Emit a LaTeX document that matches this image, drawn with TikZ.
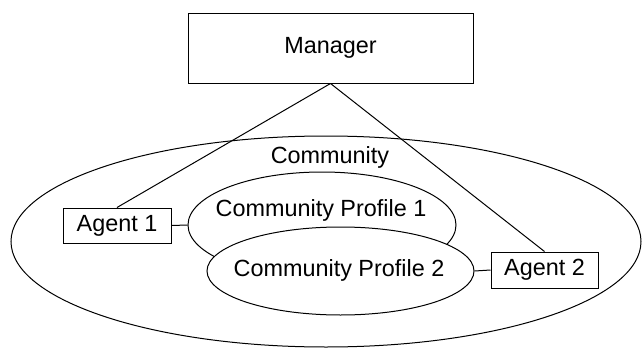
\documentclass[tikz,border=0pt]{standalone}
\usepackage{fontspec}
\setmainfont{Liberation Sans}
\usetikzlibrary{shapes.geometric}
\tikzstyle{item} = [rectangle, inner sep=0pt, text centered, draw=black, line width=0.5pt, font=\fontsize{11.7}{14}\selectfont]
\tikzstyle{group} = [ellipse, inner sep=0pt, draw=black, line width=0.5pt]
\tikzstyle{caption} = [inner sep=0pt, font=\fontsize{11.7}{14}\selectfont]
\tikzstyle{link} = [line width=0.5pt]

\begin{document}
\begin{tikzpicture}[x=0.5pt, y=-0.5pt]
    \useasboundingbox (0,0) rectangle (643,348);
    \node (community)  [group, minimum width=315pt, minimum height=105.5pt] at (326,241.5) {};
    \node (profile-1)  [group, minimum width=134pt, minimum height=53pt] at (322,225) {};
    \node (profile-2)  [group, fill=white, minimum width=133.5pt, minimum height=44pt] at (340.5,271) {};
    \node (community-text) [caption] at (330,157) {Community};
    \node (profile-1-text) [caption] at (321,210) {Community Profile 1};
    \node (profile-2-text) [caption] at (339,270) {Community Profile 2};

    \node (manager) [item, minimum width=142.5pt, minimum height=35pt] at (330.5,48)  {Manager};
    \node (agent-1) [item, minimum width=54pt, minimum height=17.5pt] at (117,225.5)  {Agent 1};
    \node (agent-2) [item, minimum width=53.5pt, minimum height=18pt] at (544.5,270) {Agent 2};

    \draw [link] (manager.south) -- (agent-1.north);
    \draw [link] (manager.south) -- (agent-2.north);
    \draw [link] (agent-1.east)  -- (profile-1.west);
    \draw [link] (agent-2.west)  -- (profile-2.east);
  \end{tikzpicture}
\end{document}
